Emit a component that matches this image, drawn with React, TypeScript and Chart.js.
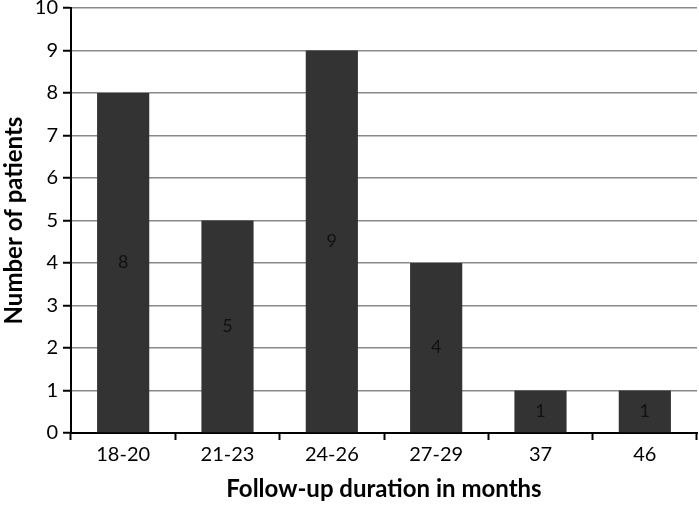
import React, { useEffect, useRef } from "react";
import { Chart, registerables } from "chart.js";

Chart.register(...registerables);

const categories = ["18-20", "21-23", "24-26", "27-29", "37", "46"];
const patients = [8, 5, 9, 4, 1, 1];
const yTicks = [0, 1, 2, 3, 4, 5, 6, 7, 8, 9, 10];

const FONT = "Lato, 'Open Sans', sans-serif";

const labelPlugin = {
  id: "barLabels",
  afterDatasetsDraw(chart: any) {
    const ctx = chart.ctx;
    const meta = chart.getDatasetMeta(0);
    ctx.save();
    ctx.fillStyle = "#111";
    ctx.font = `18px ${FONT}`;
    ctx.textAlign = "center";
    ctx.textBaseline = "middle";
    meta.data.forEach((el: any, i: number) => {
      const p = el.getProps(["x", "y", "base"], true);
      ctx.fillText(String(patients[i]), p.x, (p.y + p.base) / 2);
    });
    ctx.restore();
  },
};

export default function App() {
  const ref = useRef<HTMLCanvasElement>(null);
  useEffect(() => {
    document.body.style.margin = "0";
    const chart = new Chart(ref.current!, {
      type: "bar",
      data: {
        labels: categories,
        datasets: [
          {
            data: patients,
            backgroundColor: "#333333",
            barPercentage: 0.5,
            categoryPercentage: 1,
          },
        ],
      },
      options: {
        animation: false,
        responsive: false,
        layout: { padding: { top: 0, right: 2, left: 0, bottom: 0 } },
        plugins: { legend: { display: false }, tooltip: { enabled: false } },
        scales: {
          x: {
            grid: {
              drawOnChartArea: false,
              drawTicks: true,
              tickLength: 7,
              tickColor: "#000",
              tickWidth: 2,
              offset: true,
            },
            border: { color: "#000", width: 2 },
            ticks: { color: "#000", font: { family: FONT, size: 20 }, padding: 3 },
            title: {
              display: true,
              text: "Follow-up duration in months",
              color: "#000",
              font: { family: FONT, size: 24, weight: "bold" },
              padding: { top: 5, bottom: 2 },
            },
            afterFit(scale: any) {
              scale.height = 73;
            },
          },
          y: {
            min: 0,
            max: 10,
            afterBuildTicks(scale: any) {
              scale.ticks = yTicks.map((v) => ({ value: v }));
            },
            grid: {
              color: "#8a8a8a",
              lineWidth: 1.5,
              tickLength: 8,
              tickColor: "#000",
              tickWidth: 2,
            },
            border: { color: "#000", width: 2 },
            ticks: { color: "#000", font: { family: FONT, size: 20 }, padding: 5 },
            title: {
              display: true,
              text: "Number of patients",
              color: "#000",
              font: { family: FONT, size: 24, weight: "bold" },
              padding: { top: 0, bottom: 4 },
            },
            afterFit(scale: any) {
              scale.width = 71;
              scale.paddingTop = 8;
              scale.paddingBottom = 0;
            },
          },
        },
      },
      plugins: [labelPlugin],
    });
    return () => chart.destroy();
  }, []);
  return <canvas ref={ref} width={699} height={506} style={{ display: "block" }} />;
}
